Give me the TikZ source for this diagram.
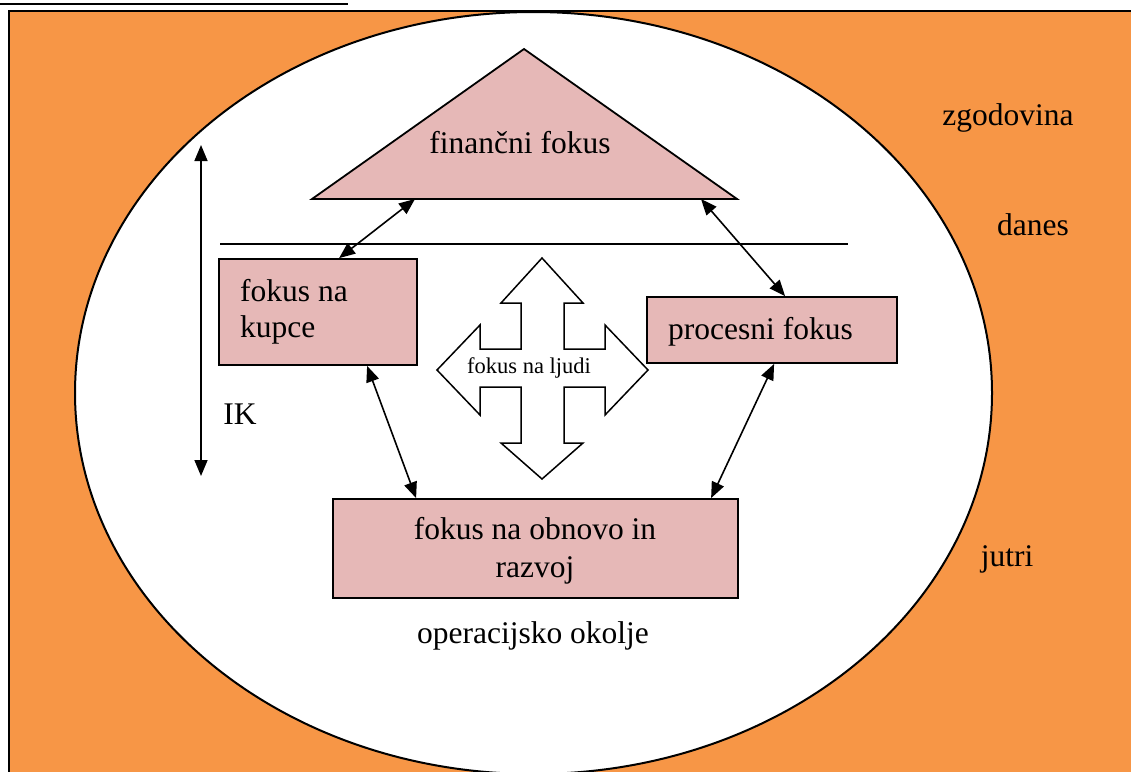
\documentclass[tikz,border=0pt]{standalone}
\usepackage{fontspec}
\setmainfont{Liberation Serif}
\usetikzlibrary{arrows.meta}
\definecolor{bgorange}{HTML}{F79646}
\definecolor{focuspink}{HTML}{E6B8B7}
\tikzset{
  focusbox/.style={draw=black, line width=1.8pt, fill=focuspink, inner sep=0pt},
  bigtext/.style={font=\fontsize{31.5}{36}\selectfont, inner sep=0pt},
  smalltext/.style={font=\fontsize{22.5}{26}\selectfont, inner sep=0pt},
  link/.style={line width=1.6pt, {Triangle[length=16pt,width=13pt]}-{Triangle[length=16pt,width=13pt]}},
}
\begin{document}
\begin{tikzpicture}[x=1pt, y=-1pt]
\useasboundingbox (0,0) rectangle (1131,771);
\clip (0,0) rectangle (1131,771);

% heading rule
\coordinate (ruleL) at (-2,4);
\coordinate (ruleR) at (348,4);
\draw[line width=1.5pt] (ruleL) -- (ruleR);

% surrounding environment and the ellipse
\draw[line width=2pt, fill=bgorange] (9,11) rectangle (1140,780);
\draw[line width=2pt, fill=white] (533.5,393) ellipse [x radius=458.5, y radius=381];

% financial focus triangle
\coordinate (finL) at (312,199);
\coordinate (finR) at (737,199);
\coordinate (finT) at (524,49);
\draw[line width=1.8pt, fill=focuspink, line join=miter] (finL) -- (finT) -- (finR) -- cycle;
\node[bigtext, anchor=base] (fintext) at (520,153) {finančni fokus};

% separation line
\coordinate (sepL) at (220,244);
\coordinate (sepR) at (848,244);
\draw[line width=1.6pt] (sepL) -- (sepR);

% focus boxes
\node[focusbox, minimum width=198pt, minimum height=106pt] (kupce) at (318,312) {};
\node[bigtext, anchor=base west] (kupcetext1) at (240,301) {fokus na};
\node[bigtext, anchor=base west] (kupcetext2) at (240,337) {kupce};
\node[focusbox, minimum width=250pt, minimum height=66pt] (proces) at (772,330) {};
\node[bigtext, anchor=base west] (procestext) at (668,339) {procesni fokus};
\node[focusbox, minimum width=405pt, minimum height=99pt] (obnova) at (535.5,548.5) {};
\node[bigtext, anchor=base] (obnovatext1) at (535,539) {fokus na obnovo in};
\node[bigtext, anchor=base] (obnovatext2) at (535,577) {razvoj};

% four-way arrow
\draw[line width=1.5pt, fill=white, line join=miter]
  (542,258) -- (583,303) -- (564,303) -- (564,349) -- (605,349) -- (605,325)
  -- (648,370) -- (605,415) -- (605,387) -- (564,387) -- (564,443) -- (583,443)
  -- (542,479) -- (501,443) -- (521,443) -- (521,387) -- (480,387) -- (480,415)
  -- (437,370) -- (480,325) -- (480,349) -- (521,349) -- (521,303) -- (501,303) -- cycle;
\node[smalltext, anchor=base] (ljudi) at (529,373) {fokus na ljudi};

% connectors
\draw[link] ([xshift=103pt]finL) -- ([xshift=121pt]kupce.north west);
\draw[link] ([xshift=389pt]finL) -- ([xshift=139pt]proces.north west);
\draw[link] ([xshift=149pt]kupce.south west) -- ([xshift=84pt]obnova.north west);
\draw[link] ([xshift=128pt]proces.south west) -- ([xshift=379pt]obnova.north west);

% time axis
\coordinate (ikTop) at (201,145);
\coordinate (ikBot) at (201,476);
\draw[link] (ikTop) -- (ikBot);
\node[bigtext, anchor=base] (ik) at (240,424) {IK};

% labels
\node[bigtext, anchor=base] (zgodovina) at (1008,125) {zgodovina};
\node[bigtext, anchor=base] (danes) at (1033,235) {danes};
\node[bigtext, anchor=base] (jutri) at (1007,566) {jutri};
\node[bigtext, anchor=base] (okolje) at (533,643) {operacijsko okolje};
\end{tikzpicture}
\end{document}
